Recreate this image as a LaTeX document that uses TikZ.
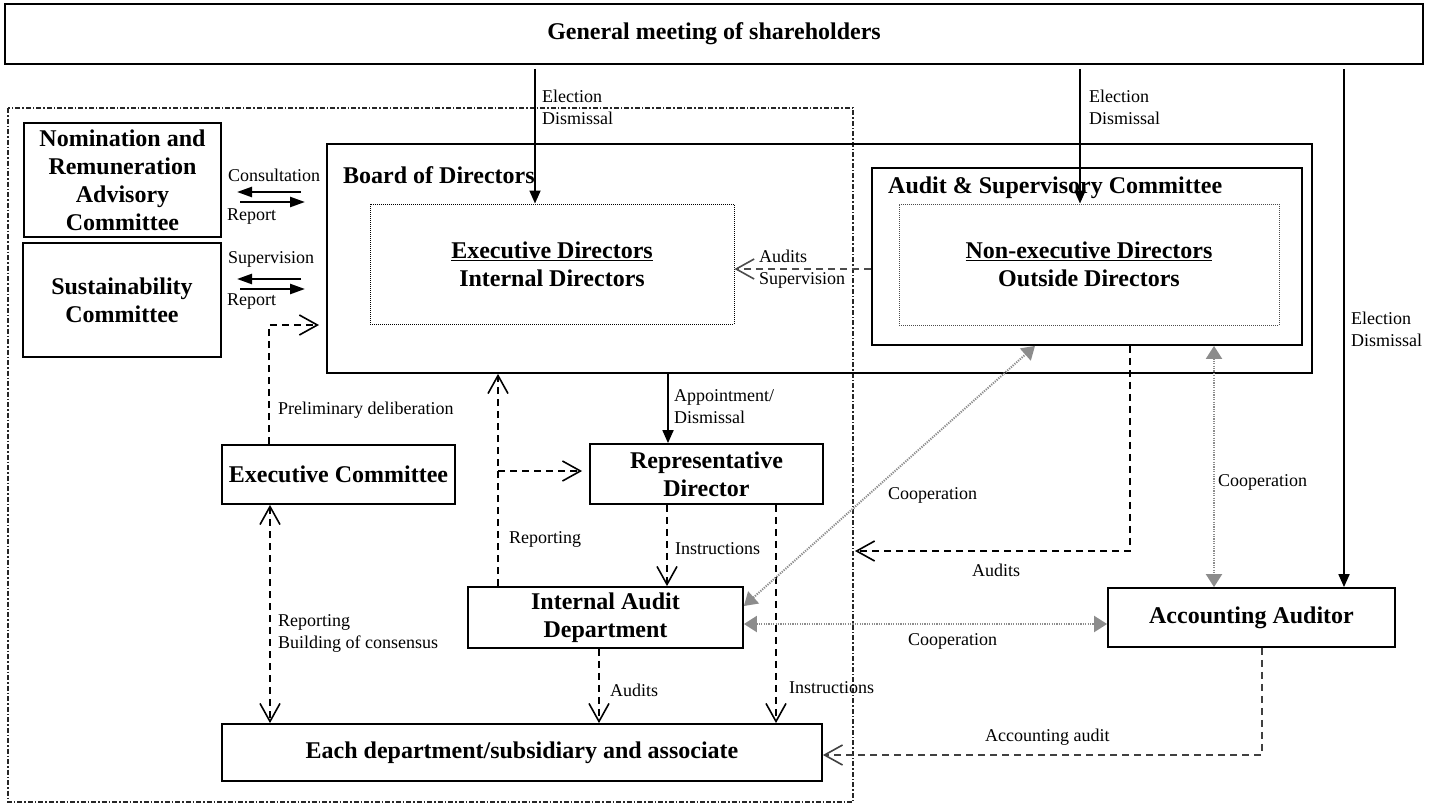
\documentclass[tikz,border=0pt]{standalone}
\usepackage{fontspec}
\setmainfont{Liberation Serif}
\usetikzlibrary{arrows.meta}
\newcommand\boxfont{\fontsize{24}{28}\selectfont\bfseries}
\newcommand\lblfont{\fontsize{18}{22}\selectfont}
\begin{document}
\begin{tikzpicture}[x=1pt,y=-1pt,
  box/.style={draw, line width=1.8pt, inner sep=0pt, align=center, font=\boxfont},
  dotbox/.style={draw, line width=1pt, dash pattern=on 1pt off 1pt, inner sep=0pt, align=center, font=\boxfont},
  frame/.style={draw=black!85, line width=1.1pt, dash pattern=on 5pt off 2pt on 1.5pt off 2pt},
  lbl/.style={font=\lblfont, inner sep=0pt, anchor=west, align=left},
  ttl/.style={font=\boxfont, inner sep=0pt, anchor=west},
  sarrow/.style={line width=1.8pt, -{Triangle[length=13pt,width=11pt]}},
  thick2/.style={line width=2.4pt, -{Triangle[length=15pt,width=10pt]}},
  darrow/.style={line width=1.8pt, dash pattern=on 7pt off 5pt, -{Straight Barb[length=18pt,width=20pt,line width=1.6pt]}},
  ddarrow/.style={line width=1.8pt, dash pattern=on 7pt off 5pt, {Straight Barb[length=18pt,width=20pt,line width=1.6pt]}-{Straight Barb[length=18pt,width=20pt,line width=1.6pt]}},
  coop/.style={line width=2pt, draw=black!45, dash pattern=on 1.2pt off 1.2pt, {Triangle[length=13pt,width=16pt]}-{Triangle[length=13pt,width=16pt]}}]
\useasboundingbox (0,0) rectangle (1444,804);

% frame
\draw[frame] (8,108) rectangle (853,802);

% nodes
\node[box, minimum width=1418, minimum height=60] (gm) at (714,34) {General meeting of shareholders};
\node[box, minimum width=197, minimum height=114] (nom) at (122.5,180) {Nomination and\\Remuneration\\Advisory\\Committee};
\node[box, minimum width=198, minimum height=114] (sus) at (122,300) {Sustainability\\Committee};
\node[box, minimum width=985, minimum height=229] (board) at (819.5,258.5) {};
\node[ttl] (boardt) at (343,175) {Board of Directors};
\node[dotbox, minimum width=364, minimum height=120] (exd) at (552,264) {\underline{Executive Directors}\\Internal Directors};
\node[box, minimum width=430, minimum height=177] (asc) at (1087,256.5) {};
\node[ttl] (asct) at (888,188) {Audit \& Supervisory Committee};
\node[dotbox, draw=black!70, minimum width=380, minimum height=121] (ned) at (1089,264.5) {\underline{Non-executive Directors}\\Outside Directors};
\node[box, minimum width=233, minimum height=59] (exc) at (338.5,474.5) {Executive Committee};
\node[box, minimum width=233, minimum height=60] (rep) at (706.5,474) {Representative\\Director};
\node[box, minimum width=275, minimum height=61] (ia) at (605.5,617.5) {Internal Audit\\Department};
\node[box, minimum width=600, minimum height=57] (each) at (522,752.5) {Each department/subsidiary and associate};
\node[box, minimum width=287, minimum height=59] (acc) at (1251.5,617.5) {Accounting Auditor};

% election arrows
\draw[sarrow, shorten <=4pt] (gm.south -| 535,0) -- (exd.north -| 535,0);
\node[lbl] (el1) at (542,107) {Election\\Dismissal};
\draw[sarrow, shorten <=4pt] (gm.south -| 1080,0) -- (ned.north -| 1080,0);
\node[lbl] (el2) at (1089,107) {Election\\Dismissal};
\draw[sarrow, shorten <=4pt] (gm.south -| 1344,0) -- (acc.north -| 1344,0);
\node[lbl] (el3) at (1351,329) {Election\\Dismissal};

% consultation / supervision
\coordinate (c1a) at (301,192); \coordinate (c1b) at (237,192);
\coordinate (c2a) at (240,202); \coordinate (c2b) at (305,202);
\draw[thick2] (c1a) -- (c1b);
\draw[thick2] (c2a) -- (c2b);
\node[lbl] (lc) at (228,175) {Consultation};
\node[lbl] (lr1) at (227,217) {Report};
\coordinate (s1a) at (301,279); \coordinate (s1b) at (237,279);
\coordinate (s2a) at (240,289); \coordinate (s2b) at (305,289);
\draw[thick2] (s1a) -- (s1b);
\draw[thick2] (s2a) -- (s2b);
\node[lbl] (ls) at (228,259) {Supervision};
\node[lbl] (lr2) at (227,302) {Report};

% preliminary deliberation
\coordinate (pd) at (319,325);
\draw[darrow] (exc.north -| 269,0) -- (269,325) -- (pd);
\node[lbl] (lpd) at (278,410) {Preliminary deliberation};

% reporting from internal audit
\draw[darrow] (ia.north -| 498,0) -- (board.south -| 498,0);
\draw[darrow] (498,471) -- ([xshift=-7pt]rep.west |- 0,471);
\node[lbl] (lrep) at (509,539) {Reporting};

% appointment
\draw[sarrow] (board.south -| 668,0) -- (rep.north -| 668,0);
\node[lbl] (lapp) at (674,407) {Appointment/\\Dismissal};

% instructions
\draw[darrow] (rep.south -| 667,0) -- (ia.north -| 667,0);
\node[lbl] (lin1) at (675,549) {Instructions};
\draw[darrow] (rep.south -| 776,0) -- (each.north -| 776,0);
\node[lbl] (lin2) at (789,688) {Instructions};

% audits IA -> each
\draw[darrow] (ia.south -| 599,0) -- (each.north -| 599,0);
\node[lbl] (lau1) at (610,690) {Audits};

% executive committee <-> each
\draw[ddarrow] (exc.south -| 270,0) -- (each.north -| 270,0);
\node[lbl] (lbc) at (278,633) {Reporting\\Building of consensus};

% audits / supervision
\draw[darrow, draw=black!70] (asc.west |- 0,269) -- (exd.east |- 0,269);
\node[lbl] (las) at (759,269) {Audits\\Supervision};

% audits from audit committee
\coordinate (au) at (855,551);
\draw[darrow] (asc.south -| 1130,0) -- (1130,551) -- (au);
\node[lbl] (lau2) at (972,570) {Audits};

% cooperation
\draw[coop] (ia.east |- 0,606) -- (asc.south -| 1035,0);
\node[lbl] (lco1) at (888,495) {Cooperation};
\draw[coop] (asc.south -| 1214,0) -- (acc.north -| 1214,0);
\node[lbl] (lco2) at (1218,482) {Cooperation};
\draw[coop] (ia.east |- 0,624) -- (acc.west |- 0,624);
\node[lbl] (lco3) at (908,641) {Cooperation};

% accounting audit
\draw[darrow, draw=black!75] (acc.south -| 1262,0) -- (1262,755) -- (each.east |- 0,755);
\node[lbl] (laa) at (985,737) {Accounting audit};
\end{tikzpicture}
\end{document}
